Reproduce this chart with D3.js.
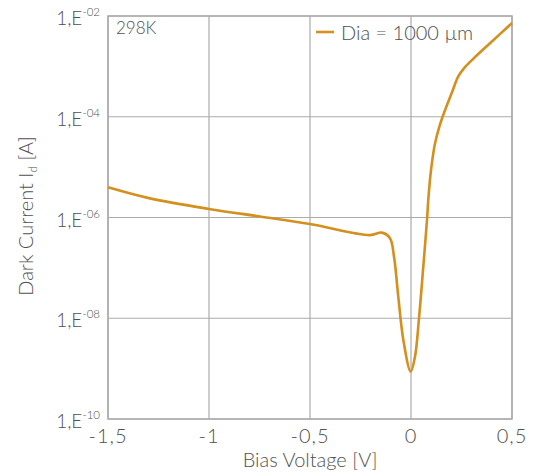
<!DOCTYPE html>
<html><head><meta charset="utf-8">
<script src="https://cdn.jsdelivr.net/npm/d3@7"></script>
<style>
body{margin:0;background:#fff;}
text{font-family:Lato,"Open Sans",sans-serif;font-weight:300;fill:#505050;}
</style></head>
<body><svg id="c" width="541" height="476"></svg>
<script>
const voltage = [-1.5,-1.292,-1.0,-0.748,-0.5,-0.203,-0.144,-0.104,-0.084,-0.063,-0.038,-0.0015,0.0198,0.0396,0.061,0.0792,0.0856,0.0955,0.1054,0.1188,0.140,0.160,0.2015,0.234,0.262,0.308,0.391,0.5];
const logCurrent = [-5.40,-5.62,-5.83,-5.98,-6.13,-6.35,-6.30,-6.41,-6.78,-7.57,-8.43,-9.06,-8.76,-8.0,-6.97,-6.05,-5.65,-5.19,-4.86,-4.53,-4.20,-3.96,-3.53,-3.20,-3.04,-2.85,-2.54,-2.14];
const xTicks = [-1.5,-1,-0.5,0,0.5];
const xTickLabels = ["-1,5","-1","-0,5","0","0,5"];
const yTicks = [1e-2,1e-4,1e-6,1e-8,1e-10];
const yTickExp = ["-02","-04","-06","-08","-10"];
const seriesName = "Dia = 1000 µm";
const tempLabel = "298K";

const svg = d3.select("#c");
const L=108,R=512,T=16,B=419;
const x = d3.scaleLinear().domain([-1.5,0.5]).range([L,R]);
const y = d3.scaleLog().domain([1e-10,1e-2]).range([B,T]);
const grid="#ababab";
const g = svg.append("g");
xTicks.forEach(t=>g.append("line").attr("x1",x(t)).attr("x2",x(t)).attr("y1",T).attr("y2",B).attr("stroke",grid).attr("stroke-width",1.2));
yTicks.forEach(t=>g.append("line").attr("x1",L).attr("x2",R).attr("y1",y(t)).attr("y2",y(t)).attr("stroke",grid).attr("stroke-width",1.2));
g.append("rect").attr("x",L).attr("y",T).attr("width",R-L).attr("height",B-T).attr("fill","none").attr("stroke",grid).attr("stroke-width",1.5);

// y tick labels
yTicks.forEach((t,i)=>{
  const tx = svg.append("text").attr("x",100).attr("y",y(t)+9).attr("text-anchor","end").attr("font-size",19);
  tx.append("tspan").text("1,E");
  tx.append("tspan").attr("font-size",11.5).attr("dy",-9).text(yTickExp[i]);
});
// x tick labels
xTicks.forEach((t,i)=>{
  svg.append("text").attr("x",x(t)).attr("y",443).attr("text-anchor","middle").attr("font-size",20).attr("letter-spacing",1).text(xTickLabels[i]);
});
svg.append("text").attr("x",310).attr("y",467).attr("text-anchor","middle").attr("font-size",20).text("Bias Voltage [V]");
const yt = svg.append("text").attr("transform","translate(33,216) rotate(-90)").attr("text-anchor","middle").attr("font-size",20);
yt.append("tspan").text("Dark Current I");
yt.append("tspan").attr("font-size",12).attr("dy",4).text("d");
yt.append("tspan").attr("dy",-4).text(" [A]");

const data = voltage.map((v,i)=>[v,Math.pow(10,logCurrent[i])]);
const line = d3.line().x(d=>x(d[0])).y(d=>y(d[1])).curve(d3.curveCatmullRom.alpha(0.5));
svg.append("path").datum(data).attr("d",line).attr("fill","none").attr("stroke","#d4901f").attr("stroke-width",2.6);

svg.append("text").attr("x",116).attr("y",34).attr("font-size",17).text(tempLabel);
svg.append("line").attr("x1",316).attr("x2",334).attr("y1",32).attr("y2",32).attr("stroke","#d4901f").attr("stroke-width",2.6);
svg.append("text").attr("x",341).attr("y",40).attr("font-size",20).text(seriesName);
</script></body></html>
